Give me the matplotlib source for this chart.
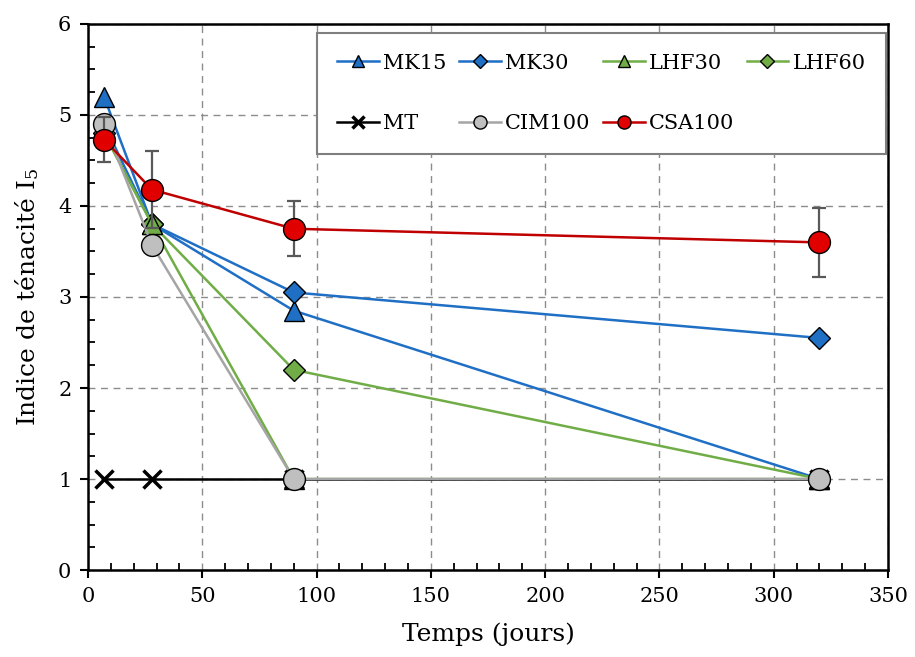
import numpy as np
import matplotlib
matplotlib.use("Agg")
from matplotlib import pyplot as plt
from matplotlib.ticker import MultipleLocator

plt.rcParams["font.family"] = ["DejaVu Serif"]
plt.rcParams["mathtext.default"] = "regular"

# ---------------------------
# Data
# ---------------------------

days = [7, 28, 90, 320]

mk15 = [5.2, 3.8, 2.85, 1.0]
mk30 = [4.9, 3.8, 3.05, 2.55]
lhf30 = [4.8, 3.8, 1.0, 1.0]
lhf60 = [4.8, 3.8, 2.2, 1.0]
mt = [1.0, 1.0, 1.0, 1.0]
cim100 = [4.9, 3.57, 1.0, 1.0]
csa100 = [4.73, 4.18, 3.75, 3.6]
csa100_err = [0.25, 0.42, 0.3, 0.38]

blue = "#1F6FC5"
green = "#70AD47"
gray = "#A5A5A5"
red = "#C00000"

# ---------------------------
# Figure
# ---------------------------

fig = plt.figure(figsize=(9.15, 6.57), dpi=100)
ax = fig.add_axes([0.0962, 0.1324, 0.8743, 0.8311])

ms = 15
mew = 1.0
lw = 1.8

h_mk15, = ax.plot(days, mk15, color=blue, lw=lw, marker="^", ms=ms,
                  mfc=blue, mec="black", mew=mew, label="MK15", zorder=3)
h_mk30, = ax.plot(days, mk30, color=blue, lw=lw, marker="D", ms=ms * 0.78,
                  mfc=blue, mec="black", mew=mew, label="MK30", zorder=3.1)
h_lhf60, = ax.plot(days, lhf60, color=green, lw=lw, marker="D", ms=ms * 0.78,
                   mfc=green, mec="black", mew=mew, label="LHF60", zorder=3.2)
h_lhf30, = ax.plot(days, lhf30, color=green, lw=lw, marker="^", ms=ms,
                   mfc=green, mec="black", mew=mew, label="LHF30", zorder=3.3)
h_mt, = ax.plot(days, mt, color="black", lw=lw, marker="x", ms=ms * 0.9,
                mec="black", mew=2.5, label="MT", zorder=3.4)
h_cim, = ax.plot(days, cim100, color=gray, lw=lw, marker="o", ms=ms * 1.05,
                 mfc="#BFBFBF", mec="black", mew=mew, label="CIM100",
                 zorder=3.5)

ax.errorbar(days, csa100, yerr=csa100_err, fmt="none", ecolor="#595959",
            elinewidth=1.6, capsize=5, capthick=1.6, zorder=3.6)
h_csa, = ax.plot(days, csa100, color=red, lw=lw, marker="o", ms=ms * 1.05,
                 mfc="#E00000", mec="black", mew=mew, label="CSA100",
                 zorder=3.7)

ax.set_xlim(0, 350)
ax.set_ylim(0, 6)
ax.xaxis.set_major_locator(MultipleLocator(50))
ax.xaxis.set_minor_locator(MultipleLocator(10))
ax.yaxis.set_major_locator(MultipleLocator(1))
ax.yaxis.set_minor_locator(MultipleLocator(0.25))

ax.tick_params(axis="both", which="major", direction="out", length=6,
               width=1.5, labelsize=15, pad=6)
ax.tick_params(axis="both", which="minor", direction="in", length=5,
               width=1.3)

ax.grid(True, which="major", color="#8C8C8C", linestyle=(0, (5, 4)),
        linewidth=1.0)
ax.set_axisbelow(True)

for side in ["left", "bottom", "right", "top"]:
    ax.spines[side].set_linewidth(1.8)
    ax.spines[side].set_color("black")

ax.set_xlabel("Temps (jours)", fontsize=18, labelpad=12)
ax.set_ylabel("Indice de ténacité I$_5$", fontsize=18, labelpad=12)

handles = [h_mk15, h_mt, h_mk30, h_cim, h_lhf30, h_csa, h_lhf60]
leg = ax.legend(handles=handles, ncol=4, loc="upper right",
                bbox_to_anchor=(0.998, 0.984), borderaxespad=0,
                fontsize=15, markerscale=0.6, handlelength=2.0,
                handletextpad=0.2, columnspacing=0.6, labelspacing=2.0,
                borderpad=1.0, fancybox=False, framealpha=1,
                edgecolor="#7F7F7F")
leg.get_frame().set_linewidth(1.5)

plt.savefig("out.png", dpi=100)
